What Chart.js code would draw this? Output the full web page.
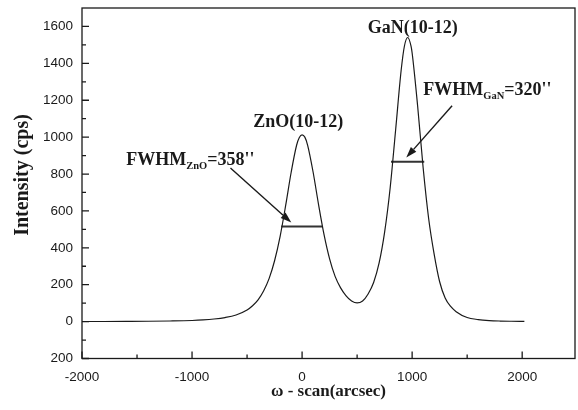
<!DOCTYPE html>
<html>
<head>
<meta charset="utf-8">
<script src="https://cdn.jsdelivr.net/npm/chart.js@4.4.0/dist/chart.umd.min.js"></script>
<style>
    html, body { margin: 0; padding: 0; background: #fff; }
    #wrap { width: 578px; height: 410px; }
</style>
</head>
<body>
<div id="wrap"><canvas id="rockingChart"></canvas></div>
<script>
// omega-scan curve, values
const omega = [-2000, -1800, -1600, -1400, -1200, -1000, -900, -800, -700, -600,
    -500, -450, -400, -350, -300, -250, -200, -150, -100, -50, -25, 0, 25, 50,
    100, 150, 200, 250, 300, 350, 400, 450, 500, 550, 600, 650, 700, 750, 800,
    850, 900, 930, 960, 990, 1000, 1050, 1100, 1150, 1200, 1250, 1300, 1350,
    1400, 1500, 1600, 1700, 1800, 1900, 2020];
const intensity = [0.5, 0.7, 1.2, 1.9, 3.3, 6, 9, 14, 22, 36,
    63, 86, 118, 166, 233, 330, 461, 627, 807, 956, 998, 1012, 1000, 957,
    811, 633, 470, 340, 245, 183, 140, 112, 101, 112, 150, 212, 318, 485, 723,
    1039, 1361, 1494, 1540, 1493, 1456, 1169, 834, 559, 366, 216, 128, 82,
    54, 22, 11, 5.5, 3, 1.8, 1];

// FWHM bars (x range, height)
const fwhmZnO = [-190, 182];
const fwhmZnOLevel = 515;
const fwhmGaN = [808, 1110];
const fwhmGaNLevel = 866;

// tick labels
const xTicks = [-2000, -1000, 0, 1000, 2000];
const xMinor = [-1500, -500, 500, 1500];
const yTicks = [-200, 0, 200, 400, 600, 800, 1000, 1200, 1400, 1600];
const yMinor = [-100, 100, 300, 500, 700, 900, 1100, 1300, 1500];

// annotations in data units
const peakLabels = [
    { text: 'ZnO(10-12)', x: -35, y: 1056 },
    { text: 'GaN(10-12)', x: 1006, y: 1564 }
];
const fwhmLabels = [
    { sub: 'ZnO', value: '=358\'\'', x: -1598, y: 850 },
    { sub: 'GaN', value: '=320\'\'', x: 1102, y: 1229 }
];
const arrows = [
    { from: [-651, 833], to: [-98, 537] },
    { from: [1363, 1170], to: [947, 889] }
];

const serif = "'Liberation Serif', 'Times New Roman', serif";
const sans = "'Liberation Sans', Arial, sans-serif";
const ink = '#1a1a1a';

const curvePoints = omega.map((x, i) => ({ x: x, y: intensity[i] }));

const frame = {
    id: 'frame',
    afterDraw(chart) {
        const { ctx, chartArea: a, scales: { x, y } } = chart;
        ctx.save();
        ctx.strokeStyle = ink;
        ctx.lineWidth = 1.3;
        ctx.strokeRect(a.left, a.top, a.right - a.left, a.bottom - a.top);

        // inward ticks
        ctx.beginPath();
        xTicks.forEach(v => {
            const px = x.getPixelForValue(v);
            ctx.moveTo(px, a.bottom); ctx.lineTo(px, a.bottom - 7);
        });
        xMinor.forEach(v => {
            const px = x.getPixelForValue(v);
            ctx.moveTo(px, a.bottom); ctx.lineTo(px, a.bottom - 4);
        });
        yTicks.forEach(v => {
            const py = y.getPixelForValue(v);
            ctx.moveTo(a.left, py); ctx.lineTo(a.left + 7, py);
        });
        yMinor.forEach(v => {
            const py = y.getPixelForValue(v);
            ctx.moveTo(a.left, py); ctx.lineTo(a.left + 4, py);
        });
        ctx.stroke();

        // arrows
        ctx.fillStyle = ink;
        ctx.lineWidth = 1.4;
        arrows.forEach(ar => {
            const x0 = x.getPixelForValue(ar.from[0]), y0 = y.getPixelForValue(ar.from[1]);
            const x1 = x.getPixelForValue(ar.to[0]), y1 = y.getPixelForValue(ar.to[1]);
            const ang = Math.atan2(y1 - y0, x1 - x0);
            const len = 11, half = 3.6;
            const bx = x1 - len * Math.cos(ang), by = y1 - len * Math.sin(ang);
            ctx.beginPath();
            ctx.moveTo(x0, y0); ctx.lineTo(bx, by);
            ctx.stroke();
            ctx.beginPath();
            ctx.moveTo(x1, y1);
            ctx.lineTo(bx + half * Math.sin(ang), by - half * Math.cos(ang));
            ctx.lineTo(bx - half * Math.sin(ang), by + half * Math.cos(ang));
            ctx.closePath();
            ctx.fill();
        });

        // peak names
        ctx.font = 'bold 18px ' + serif;
        ctx.textAlign = 'center';
        ctx.textBaseline = 'alphabetic';
        peakLabels.forEach(l => {
            ctx.fillText(l.text, x.getPixelForValue(l.x), y.getPixelForValue(l.y));
        });

        // FWHM with subscript
        ctx.textAlign = 'left';
        fwhmLabels.forEach(l => {
            let px = x.getPixelForValue(l.x);
            const py = y.getPixelForValue(l.y);
            ctx.font = 'bold 18px ' + serif;
            ctx.fillText('FWHM', px, py);
            px += ctx.measureText('FWHM').width;
            ctx.font = 'bold 10.5px ' + serif;
            ctx.fillText(l.sub, px, py + 4);
            px += ctx.measureText(l.sub).width;
            ctx.font = 'bold 18px ' + serif;
            ctx.fillText(l.value, px, py);
        });

        // axis titles
        ctx.font = 'bold 17px ' + serif;
        ctx.textAlign = 'center';
        ctx.textBaseline = 'middle';
        ctx.fillText('\u03c9 - scan(arcsec)', (a.left + a.right) / 2, 392);
        ctx.save();
        ctx.translate(23, 175);
        ctx.rotate(-Math.PI / 2);
        ctx.font = 'bold 20px ' + serif;
        ctx.fillText('Intensity (cps)', 0, 0);
        ctx.restore();
        ctx.restore();
    }
};

new Chart(document.getElementById('rockingChart'), {
    type: 'line',
    data: {
        datasets: [
            {
                data: curvePoints,
                borderColor: ink,
                borderWidth: 1.2,
                pointRadius: 0,
                cubicInterpolationMode: 'monotone',
                fill: false
            },
            {
                data: fwhmZnO.map(v => ({ x: v, y: fwhmZnOLevel })),
                borderColor: '#333',
                borderWidth: 2,
                pointRadius: 0
            },
            {
                data: fwhmGaN.map(v => ({ x: v, y: fwhmGaNLevel })),
                borderColor: '#333',
                borderWidth: 2,
                pointRadius: 0
            }
        ]
    },
    options: {
        responsive: true,
        maintainAspectRatio: false,
        animation: false,
        layout: { padding: { top: 8, right: 3, left: 0, bottom: 0 } },
        plugins: {
            legend: { display: false },
            tooltip: { enabled: false }
        },
        scales: {
            x: {
                type: 'linear',
                min: -2000,
                max: 2480,
                afterBuildTicks: s => { s.ticks = xTicks.map(v => ({ value: v })); },
                afterFit: s => { s.height = 51.5; },
                grid: { display: false, drawTicks: false },
                border: { display: false },
                ticks: {
                    padding: 11,
                    color: ink,
                    font: { family: sans, size: 13.5 },
                    callback: v => String(v)
                }
            },
            y: {
                type: 'linear',
                min: -200,
                max: 1700,
                afterBuildTicks: s => { s.ticks = yTicks.map(v => ({ value: v })); },
                afterFit: s => {
                    s.width = 82;
                    s.paddingTop = 0;
                    s.paddingBottom = 0;
                },
                grid: { display: false, drawTicks: false },
                border: { display: false },
                ticks: {
                    padding: 9,
                    color: ink,
                    font: { family: sans, size: 13.5 },
                    // the figure prints the bottom label without its minus sign
                    callback: v => String(Math.abs(v))
                }
            }
        }
    },
    plugins: [frame]
});
</script>
</body>
</html>
